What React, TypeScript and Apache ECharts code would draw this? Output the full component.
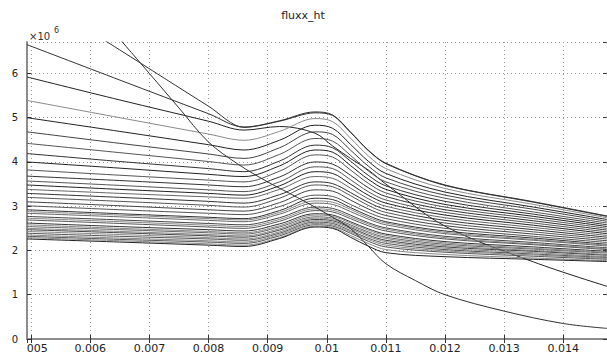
import React, { useEffect, useRef } from "react";
import * as echarts from "echarts";

// x positions (s) shared by the family of curves
const X = [0.00493, 0.0065, 0.008, 0.0086, 0.0092, 0.0098, 0.0101, 0.0104, 0.0107, 0.011, 0.012, 0.0135, 0.01474];

// y values in units of 1e6 (top to bottom)
const c00 = [6.65, 5.85, 5.09, 4.79, 4.93, 5.13, 5.06, 4.68, 4.27, 3.97, 3.48, 3.10, 2.78];
const c01 = [5.92, 5.40, 4.92, 4.72, 4.80, 4.65, 4.36, 4.08, 3.82, 3.50, 2.55, 1.74, 1.19];
const c02 = [5.39, 5.00, 4.63, 4.49, 4.69, 4.98, 4.91, 4.54, 4.14, 3.85, 3.40, 3.04, 2.74];
const c03 = [5.00, 4.69, 4.39, 4.27, 4.49, 4.83, 4.76, 4.40, 4.02, 3.74, 3.32, 2.98, 2.70];
const c04 = [4.68, 4.42, 4.18, 4.08, 4.32, 4.68, 4.62, 4.27, 3.91, 3.64, 3.25, 2.93, 2.66];
const c05 = [4.42, 4.21, 4.01, 3.93, 4.17, 4.53, 4.47, 4.15, 3.80, 3.55, 3.18, 2.87, 2.62];
const c06 = [4.19, 4.01, 3.85, 3.78, 4.02, 4.38, 4.32, 4.02, 3.70, 3.46, 3.11, 2.82, 2.58];
const c07 = [4.00, 3.86, 3.72, 3.67, 3.91, 4.27, 4.22, 3.92, 3.61, 3.38, 3.04, 2.77, 2.54];
const c08 = [3.82, 3.70, 3.59, 3.55, 3.79, 4.16, 4.11, 3.82, 3.52, 3.30, 2.98, 2.72, 2.50];
const c09 = [3.68, 3.58, 3.48, 3.44, 3.66, 4.00, 3.95, 3.70, 3.42, 3.22, 2.92, 2.67, 2.46];
const c10 = [3.57, 3.47, 3.37, 3.33, 3.55, 3.89, 3.85, 3.60, 3.33, 3.14, 2.86, 2.62, 2.42];
const c11 = [3.48, 3.38, 3.29, 3.25, 3.46, 3.78, 3.74, 3.50, 3.25, 3.07, 2.80, 2.57, 2.38];
const c12 = [3.38, 3.29, 3.21, 3.18, 3.38, 3.67, 3.63, 3.41, 3.17, 3.00, 2.74, 2.52, 2.34];
const c13 = [3.29, 3.20, 3.11, 3.07, 3.26, 3.55, 3.51, 3.31, 3.09, 2.93, 2.68, 2.47, 2.30];
const c14 = [3.20, 3.11, 3.02, 2.98, 3.18, 3.48, 3.44, 3.24, 3.02, 2.86, 2.62, 2.42, 2.26];
const c15 = [3.10, 3.01, 2.92, 2.89, 3.08, 3.37, 3.34, 3.14, 2.94, 2.79, 2.56, 2.37, 2.22];
const c16 = [3.01, 2.92, 2.84, 2.81, 2.99, 3.25, 3.22, 3.04, 2.86, 2.72, 2.50, 2.32, 2.18];
const c17 = [2.92, 2.83, 2.75, 2.72, 2.90, 3.18, 3.15, 2.97, 2.79, 2.65, 2.44, 2.28, 2.14];
const c18 = [2.88, 2.80, 2.72, 2.69, 2.86, 3.12, 3.09, 2.93, 2.75, 2.62, 2.41, 2.25, 2.12];
const c19 = [2.84, 2.76, 2.68, 2.65, 2.82, 3.07, 3.04, 2.88, 2.71, 2.58, 2.38, 2.23, 2.10];
const c20 = [2.77, 2.69, 2.61, 2.58, 2.74, 2.98, 2.95, 2.80, 2.63, 2.51, 2.32, 2.18, 2.06];
const c21 = [2.73, 2.65, 2.57, 2.54, 2.70, 2.94, 2.91, 2.76, 2.60, 2.48, 2.29, 2.15, 2.04];
const c22 = [2.69, 2.61, 2.53, 2.50, 2.66, 2.90, 2.87, 2.72, 2.56, 2.44, 2.26, 2.13, 2.02];
const c23 = [2.62, 2.54, 2.47, 2.44, 2.60, 2.83, 2.80, 2.65, 2.49, 2.37, 2.20, 2.08, 1.98];
const c24 = [2.58, 2.50, 2.43, 2.40, 2.56, 2.80, 2.77, 2.62, 2.46, 2.34, 2.17, 2.05, 1.96];
const c25 = [2.54, 2.47, 2.40, 2.37, 2.53, 2.76, 2.73, 2.58, 2.42, 2.30, 2.14, 2.03, 1.94];
const c26 = [2.50, 2.43, 2.36, 2.33, 2.49, 2.73, 2.70, 2.55, 2.39, 2.27, 2.11, 2.00, 1.91];
const c27 = [2.47, 2.40, 2.33, 2.30, 2.46, 2.70, 2.67, 2.52, 2.35, 2.23, 2.08, 1.98, 1.89];
const c28 = [2.43, 2.36, 2.29, 2.26, 2.42, 2.67, 2.64, 2.49, 2.32, 2.20, 2.05, 1.95, 1.86];
const c29 = [2.39, 2.32, 2.26, 2.23, 2.39, 2.64, 2.61, 2.45, 2.28, 2.16, 2.02, 1.92, 1.84];
const c30 = [2.35, 2.28, 2.22, 2.19, 2.36, 2.61, 2.58, 2.42, 2.25, 2.12, 1.99, 1.90, 1.82];
const c31 = [2.32, 2.25, 2.19, 2.16, 2.33, 2.58, 2.55, 2.39, 2.21, 2.08, 1.96, 1.87, 1.80];
const c32 = [2.29, 2.22, 2.15, 2.12, 2.29, 2.55, 2.52, 2.34, 2.16, 2.02, 1.91, 1.83, 1.77];
const c33 = [2.26, 2.19, 2.12, 2.09, 2.27, 2.53, 2.50, 2.30, 2.10, 1.95, 1.86, 1.80, 1.75];
// curve entering from above and merging into the top hump
const steep1 = [7.85, 6.53, 5.26, 4.78, 4.92, 5.11, 5.05, 4.67, 4.26, 3.96, 3.47, 3.09, 2.77];
// curve entering from above and falling to the bottom
const steep2X = [0.006, 0.007, 0.0075, 0.008, 0.0085, 0.009, 0.0095, 0.0098, 0.0101, 0.0104, 0.0107, 0.011, 0.0115, 0.012, 0.013, 0.014, 0.01474];
const steep2Y = [7.55, 6.0, 5.22, 4.45, 3.95, 3.55, 3.2, 2.98, 2.75, 2.5, 2.1, 1.7, 1.32, 1.0, 0.63, 0.35, 0.24];

const curves = [c00, c01, c02, c03, c04, c05, c06, c07, c08, c09, c10, c11, c12, c13, c14, c15, c16,
  c17, c18, c19, c20, c21, c22, c23, c24, c25, c26, c27, c28, c29, c30, c31, c32, c33];
const curveColors = ["#333", "#222", "#8a8a8a", "#222", "#444", "#555", "#333", "#222", "#555", "#333",
  "#555", "#222", "#666", "#333", "#555", "#444", "#555", "#333", "#888", "#666", "#444", "#888", "#555",
  "#333", "#888", "#666", "#888", "#444", "#888", "#555", "#888", "#555", "#888", "#222"];

const X_MIN = 0.00493;
const X_MAX = 0.01474;
const Y_MIN = 0;
const Y_MAX = 6.71;
const X_TICK_FIRST = 0.005;
const TITLE = "fluxx_ht";

export default function App() {
  const ref = useRef<HTMLDivElement | null>(null);
  useEffect(() => {
    if (!ref.current) return;
    const chart = echarts.init(ref.current, undefined, { renderer: "svg" });
    const font = "DejaVu Sans";
    const mk = (data: number[][], color: string, smooth: number) => ({
      type: "line",
      data,
      symbol: "none",
      smooth,
      silent: true,
      lineStyle: { width: 1, color },
      z: 3,
    });
    const series: any[] = curves.map((arr, i) => mk(X.map((x, j) => [x, arr[j]]), curveColors[i], 0.35));
    series.push(mk(X.map((x, j) => [x, steep1[j]]), "#333", 0.3));
    series.push(mk(steep2X.map((x, j) => [x, steep2Y[j]]), "#333", 0.35));
    const fmtX = (v: number) => {
      if (Math.abs(v - X_TICK_FIRST) < 1e-9) return "{s|005}";
      return String(parseFloat(v.toFixed(4)));
    };
    const option: any = {
      animation: false,
      backgroundColor: "#ffffff",
      grid: { left: 27, right: 0, top: 42, bottom: 14.5, show: false },
      xAxis: [
        {
          type: "value",
          min: X_MIN,
          max: X_MAX,
          splitNumber: 10,
          position: "bottom",
          axisLine: { show: true, lineStyle: { color: "#8c8c8c", width: 2 } },
          axisTick: { show: true, inside: true, length: 4, lineStyle: { color: "#333" } },
          axisLabel: {
            showMinLabel: false,
            showMaxLabel: false,
            margin: 4,
            color: "#222",
            fontFamily: font,
            fontSize: 11,
            formatter: fmtX,
            rich: { s: { padding: [0, 0, 0, 12], color: "#222", fontFamily: font, fontSize: 11 } },
          },
          splitLine: { show: true, lineStyle: { color: "#999", width: 1, type: [1, 3] } },
        },
        {
          type: "value",
          min: X_MIN,
          max: X_MAX,
          splitNumber: 10,
          position: "top",
          axisLine: { show: true, lineStyle: { color: "#8c8c8c", width: 2 } },
          axisTick: { show: true, inside: true, length: 4, lineStyle: { color: "#333" } },
          axisLabel: { show: false },
          splitLine: { show: false },
        },
      ],
      yAxis: [
        {
          type: "value",
          min: Y_MIN,
          max: Y_MAX,
          interval: 1,
          position: "left",
          axisLine: { show: true, lineStyle: { color: "#8c8c8c", width: 2 } },
          axisTick: { show: true, inside: true, length: 4, lineStyle: { color: "#333" } },
          axisLabel: {
            showMaxLabel: false,
            margin: 9,
            color: "#222",
            fontFamily: font,
            fontSize: 10,
          },
          splitLine: { show: true, lineStyle: { color: "#999", width: 1, type: [1, 3] } },
        },
        {
          type: "value",
          min: Y_MIN,
          max: Y_MAX,
          interval: 1,
          position: "right",
          axisLine: { show: false },
          axisTick: { show: true, inside: true, length: 4, lineStyle: { color: "#333" } },
          axisLabel: { show: false },
          splitLine: { show: false },
        },
      ],
      graphic: [
        {
          type: "text",
          x: 303,
          y: 15,
          style: { text: TITLE, fontFamily: font, fontSize: 11, fill: "#222", align: "center", verticalAlign: "middle" },
        },
        {
          type: "text",
          x: 29,
          y: 36,
          style: { text: "×10", fontFamily: font, fontSize: 10, fill: "#333", align: "left", verticalAlign: "middle" },
        },
        {
          type: "text",
          x: 54,
          y: 30,
          style: { text: "6", fontFamily: font, fontSize: 8, fill: "#333", align: "left", verticalAlign: "middle" },
        },
      ],
      series,
    };
    chart.setOption(option);
    return () => chart.dispose();
  }, []);
  return (
    <div
      ref={ref}
      style={{ position: "fixed", left: 0, top: 0, width: 607, height: 354, background: "#fff" }}
    />
  );
}
